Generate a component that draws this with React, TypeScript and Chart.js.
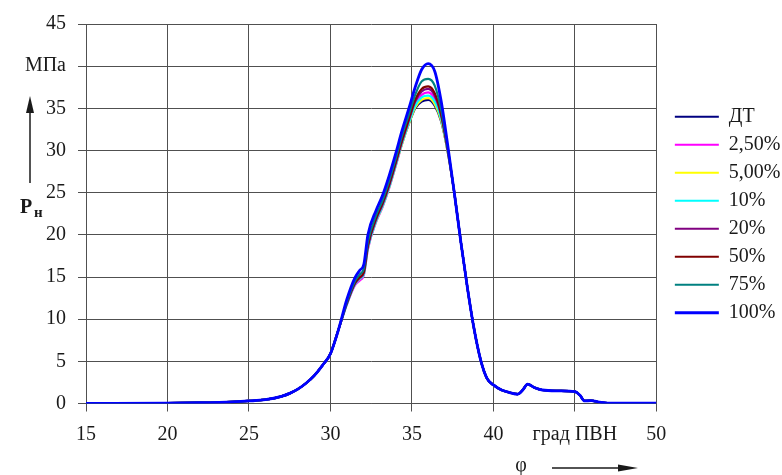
import React, { useEffect, useRef } from "react";
import { Chart, registerables } from "chart.js";

Chart.register(...registerables);

// Crank angle, degrees after TDC (φ, град ПВН)
const phi = [15, 20, 22, 24, 25, 26, 27, 27.5, 28, 28.5, 29, 29.5, 30, 30.5, 31, 31.5, 31.8, 32.05, 32.3, 32.8, 33.2, 33.6, 34, 34.4, 34.8, 35.2, 35.6, 36, 36.4, 36.8, 37.2, 37.6, 38, 38.4, 38.8, 39.2, 39.6, 40, 40.5, 41, 41.5, 41.8, 42.1, 42.5, 43, 44, 45, 45.3, 45.6, 46, 46.5, 47, 48, 50];

const seriesNames = ["ДТ", "2,50%", "5,00%", "10%", "20%", "50%", "75%", "100%"];
const seriesColors = ["#000080", "#ff00ff", "#ffff00", "#00ffff", "#800080", "#800000", "#008080", "#0000ff"];

// Pressure, MPa
const pDT = [0.02, 0.05, 0.1, 0.2, 0.3, 0.45, 0.85, 1.2, 1.7, 2.4, 3.3, 4.5, 5.9, 8.8, 11.8, 14.2, 14.9, 15.5, 18.6, 21.7, 23.5, 25.7, 28.3, 30.9, 33.1, 35.0, 35.8, 36.0, 35.3, 33.4, 29.8, 25.0, 19.2, 13.8, 9.0, 5.3, 3.0, 2.2, 1.6, 1.3, 1.1, 1.6, 2.3, 1.9, 1.6, 1.5, 1.4, 1.0, 0.3, 0.35, 0.15, 0.05, 0.05, 0.05];
const p2_5 = [0.02, 0.05, 0.1, 0.2, 0.3, 0.45, 0.85, 1.2, 1.7, 2.4, 3.3, 4.5, 5.9, 8.8, 11.7, 14.0, 14.6, 15.2, 18.3, 21.5, 23.3, 25.5, 28.1, 30.8, 33.2, 35.4, 36.6, 36.9, 36.1, 33.9, 29.9, 25.0, 19.2, 13.8, 9.0, 5.3, 3.0, 2.2, 1.6, 1.3, 1.1, 1.6, 2.3, 1.9, 1.6, 1.5, 1.4, 1.0, 0.3, 0.35, 0.15, 0.05, 0.05, 0.05];
const p5 = [0.02, 0.05, 0.1, 0.2, 0.3, 0.45, 0.85, 1.2, 1.7, 2.4, 3.3, 4.5, 5.9, 8.8, 11.8, 14.2, 14.8, 15.4, 18.5, 21.6, 23.4, 25.6, 28.2, 30.8, 33.1, 35.1, 36.0, 36.2, 35.5, 33.5, 29.8, 25.0, 19.2, 13.8, 9.0, 5.3, 3.0, 2.2, 1.6, 1.3, 1.1, 1.6, 2.3, 1.9, 1.6, 1.5, 1.4, 1.0, 0.3, 0.35, 0.15, 0.05, 0.05, 0.05];
const p10 = [0.02, 0.05, 0.1, 0.2, 0.3, 0.45, 0.85, 1.2, 1.7, 2.4, 3.3, 4.5, 5.9, 8.8, 11.7, 14.1, 14.8, 15.3, 18.4, 21.6, 23.4, 25.6, 28.2, 30.9, 33.2, 35.3, 36.3, 36.5, 35.8, 33.7, 29.9, 25.0, 19.2, 13.8, 9.0, 5.3, 3.0, 2.2, 1.6, 1.3, 1.1, 1.6, 2.3, 1.9, 1.6, 1.5, 1.4, 1.0, 0.3, 0.35, 0.15, 0.05, 0.05, 0.05];
const p20 = [0.02, 0.05, 0.1, 0.2, 0.3, 0.45, 0.85, 1.2, 1.7, 2.4, 3.3, 4.5, 5.9, 8.8, 11.8, 14.2, 14.9, 15.5, 18.6, 21.8, 23.6, 25.8, 28.4, 31.1, 33.5, 35.8, 37.0, 37.3, 36.5, 34.1, 30.0, 25.0, 19.2, 13.8, 9.0, 5.3, 3.0, 2.2, 1.6, 1.3, 1.1, 1.6, 2.3, 1.9, 1.6, 1.5, 1.4, 1.0, 0.3, 0.35, 0.15, 0.05, 0.05, 0.05];
const p50 = [0.02, 0.05, 0.1, 0.2, 0.3, 0.45, 0.85, 1.2, 1.7, 2.4, 3.3, 4.5, 5.9, 8.8, 11.9, 14.3, 15.0, 15.6, 18.8, 22.0, 23.8, 26.0, 28.6, 31.3, 33.7, 36.0, 37.3, 37.6, 36.8, 34.3, 30.1, 25.0, 19.2, 13.8, 9.0, 5.3, 3.0, 2.2, 1.6, 1.3, 1.1, 1.6, 2.3, 1.9, 1.6, 1.5, 1.4, 1.0, 0.3, 0.35, 0.15, 0.05, 0.05, 0.05];
const p75 = [0.02, 0.05, 0.1, 0.2, 0.3, 0.45, 0.85, 1.2, 1.7, 2.4, 3.3, 4.5, 5.9, 8.8, 12.0, 14.5, 15.3, 16.0, 19.2, 22.3, 24.1, 26.4, 29.0, 31.8, 34.2, 36.6, 38.2, 38.5, 37.7, 34.8, 30.3, 25.0, 19.2, 13.8, 9.0, 5.3, 3.0, 2.2, 1.6, 1.3, 1.1, 1.6, 2.3, 1.9, 1.6, 1.5, 1.4, 1.0, 0.3, 0.35, 0.15, 0.05, 0.05, 0.05];
const p100 = [0.02, 0.05, 0.1, 0.2, 0.3, 0.45, 0.85, 1.2, 1.7, 2.4, 3.3, 4.5, 5.9, 8.8, 12.3, 14.9, 15.8, 16.5, 20.0, 22.9, 24.7, 27.0, 29.6, 32.4, 34.9, 37.5, 39.6, 40.3, 39.4, 35.8, 30.6, 25.0, 19.2, 13.8, 9.0, 5.3, 3.0, 2.2, 1.6, 1.3, 1.1, 1.6, 2.3, 1.9, 1.6, 1.5, 1.4, 1.0, 0.3, 0.35, 0.15, 0.05, 0.05, 0.05];

const seriesValues = [pDT, p2_5, p5, p10, p20, p50, p75, p100];

const xTickValues = [15, 20, 25, 30, 35, 40, 45, 50];
const xTickLabels = ["15", "20", "25", "30", "35", "40", "град ПВН", "50"];
const yTickValues = [0, 5, 10, 15, 20, 25, 30, 35, 40, 45];
const yTickLabels = ["0", "5", "10", "15", "20", "25", "30", "35", "МПа", "45"];

const FONT = "'Liberation Serif', 'Times New Roman', serif";
const TEXT = "#1a1a1a";
const GRID = "#505050";

const legendShift = {
  id: "legendShift",
  afterLayout(chart: any) {
    const l = chart.legend;
    if (l) {
      l.left += 10.5;
      l.right += 10.5;
      l.top -= 33;
      l.bottom -= 33;
    }
  },
};

const annotations = {
  id: "annotations",
  afterDraw(chart: any) {
    const ctx = chart.ctx as CanvasRenderingContext2D;
    ctx.save();
    ctx.strokeStyle = TEXT;
    ctx.fillStyle = TEXT;
    ctx.lineWidth = 1.5;
    // vertical arrow for P
    ctx.beginPath();
    ctx.moveTo(30, 183);
    ctx.lineTo(30, 110);
    ctx.stroke();
    ctx.beginPath();
    ctx.moveTo(30, 96);
    ctx.lineTo(26, 113);
    ctx.lineTo(34, 113);
    ctx.closePath();
    ctx.fill();
    ctx.textAlign = "left";
    ctx.textBaseline = "alphabetic";
    ctx.font = `bold 20px ${FONT}`;
    ctx.fillText("Р", 20, 213);
    ctx.font = `bold 15px ${FONT}`;
    ctx.fillText("н", 34, 217);
    // φ with arrow
    ctx.font = `20px ${FONT}`;
    ctx.textAlign = "center";
    ctx.textBaseline = "middle";
    ctx.fillText("φ", 521, 466);
    ctx.beginPath();
    ctx.moveTo(552, 468);
    ctx.lineTo(624, 468);
    ctx.stroke();
    ctx.beginPath();
    ctx.moveTo(638, 468);
    ctx.lineTo(618, 464.5);
    ctx.lineTo(618, 471.5);
    ctx.closePath();
    ctx.fill();
    ctx.restore();
  },
};

export default function App() {
  const ref = useRef<HTMLCanvasElement | null>(null);

  useEffect(() => {
    if (!ref.current) return;
    const order = [7, 6, 5, 4, 3, 2, 1, 0];
    const datasets = order.map((i) => ({
      label: seriesNames[i],
      data: phi.map((x, k) => ({ x, y: seriesValues[i][k] })),
      borderColor: seriesColors[i],
      backgroundColor: seriesColors[i],
      borderWidth: i === 7 ? 2.8 : 2.2,
      pointRadius: 0,
      cubicInterpolationMode: "monotone" as const,
      fill: false,
    }));

    const chart = new Chart(ref.current, {
      type: "line",
      data: { datasets },
      plugins: [legendShift, annotations],
      options: {
        animation: false,
        responsive: false,
        devicePixelRatio: 1,
        layout: { padding: { left: 0, top: 20.5, right: 2, bottom: 0 } },
        plugins: {
          tooltip: { enabled: false },
          legend: {
            position: "right",
            reverse: true,
            labels: {
              usePointStyle: true,
              pointStyle: "line",
              pointStyleWidth: 44,
              padding: 8,
              color: TEXT,
              font: { family: FONT, size: 20 },
            },
          },
        },
        scales: {
          x: {
            type: "linear",
            min: 15,
            max: 50,
            afterFit: (s: any) => {
              s.height = 71.5;
            },
            afterBuildTicks: (s: any) => {
              s.ticks = xTickValues.map((v) => ({ value: v }));
            },
            ticks: {
              autoSkip: false,
              maxRotation: 0,
              minRotation: 0,
              padding: 11,
              color: TEXT,
              font: { family: FONT, size: 20 },
              callback: (v: any) => {
                const i = xTickValues.indexOf(Number(v));
                return i >= 0 ? xTickLabels[i] : "";
              },
            },
            grid: { color: GRID, lineWidth: 1, tickLength: 8, tickColor: GRID },
            border: { color: GRID, width: 1 },
          },
          y: {
            type: "linear",
            min: 0,
            max: 45,
            afterFit: (s: any) => {
              s.width = 86;
            },
            afterBuildTicks: (s: any) => {
              s.ticks = yTickValues.map((v) => ({ value: v }));
            },
            ticks: {
              autoSkip: false,
              padding: 12,
              color: TEXT,
              font: { family: FONT, size: 20 },
              callback: (v: any) => {
                const i = yTickValues.indexOf(Number(v));
                return i >= 0 ? yTickLabels[i] : "";
              },
            },
            grid: { color: GRID, lineWidth: 1, tickLength: 8, tickColor: GRID },
            border: { color: GRID, width: 1 },
          },
        },
      },
    });
    return () => chart.destroy();
  }, []);

  return (
    <div style={{ position: "absolute", left: 0, top: 0, width: 782, height: 475, background: "#fff" }}>
      <canvas ref={ref} width={782} height={475} style={{ display: "block" }} />
    </div>
  );
}
